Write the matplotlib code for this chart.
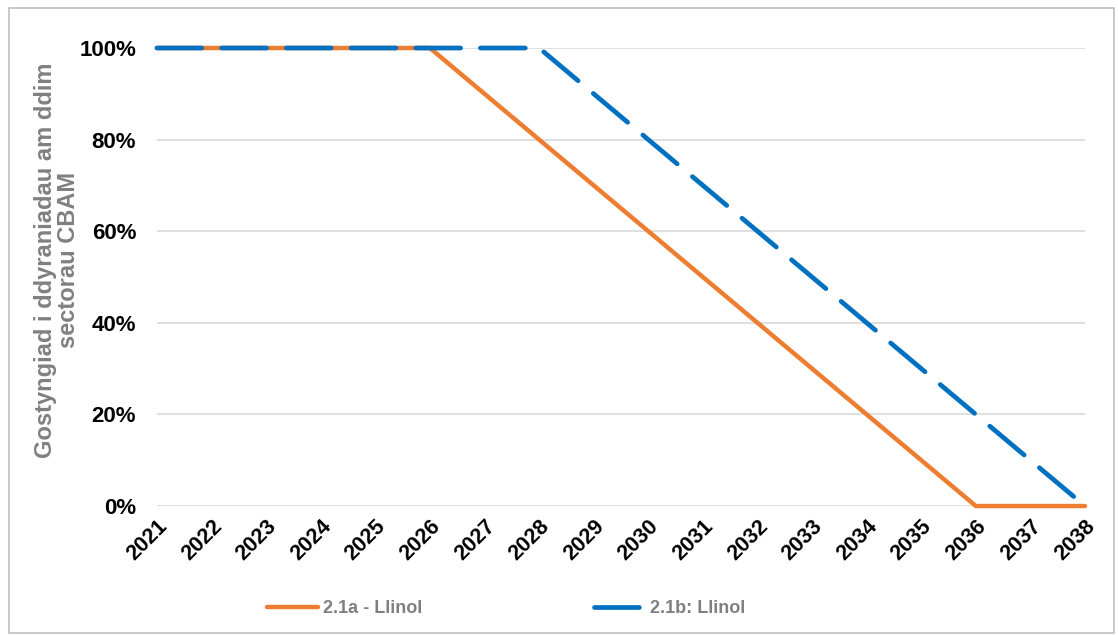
import matplotlib.pyplot as plt
from matplotlib.patches import Rectangle

plt.rcParams['font.family'] = ['Liberation Sans', 'DejaVu Sans']

years = [str(y) for y in range(2021, 2039)]
series_a = [100, 100, 100, 100, 100, 100, 90, 80, 70, 60, 50, 40, 30, 20, 10, 0, 0, 0]
series_b = [100, 100, 100, 100, 100, 100, 100, 100, 90, 80, 70, 60, 50, 40, 30, 20, 10, 0]
label_a = '2.1a - Llinol'
label_b = '2.1b: Llinol'

fig = plt.figure(figsize=(11.18, 6.35), dpi=100)
ax = fig.add_axes([0.1404, 0.2031, 0.8301, 0.7213])

x = range(len(years))
ax.plot(x, [v / 100 for v in series_a], color='#ED7D31', linewidth=3.2, label=label_a,
        solid_capstyle='round', clip_on=False, zorder=3)
ax.plot(x, [v / 100 for v in series_b], color='#0070C0', linewidth=3.4, label=label_b,
        dashes=(9.5, 4.2), dash_capstyle='round', clip_on=False, zorder=4)

ax.set_xlim(0, len(years) - 1)
ax.set_ylim(0, 1)
ax.set_yticks([0, 0.2, 0.4, 0.6, 0.8, 1.0])
ax.set_yticklabels(['0%', '20%', '40%', '60%', '80%', '100%'], fontsize=16, fontweight='bold')
ax.set_xticks(list(x))
ax.set_xticklabels(years, rotation=45, ha='right', rotation_mode='anchor',
                   fontsize=15.5, fontweight='bold')
ax.tick_params(axis='y', length=0, pad=15)
ax.tick_params(axis='x', length=0, pad=7)
ax.grid(axis='y', color='#D9D9D9', linewidth=1.2)
ax.set_axisbelow(True)
for s in ax.spines.values():
    s.set_visible(False)

ax.set_ylabel('Gostyngiad i ddyraniadau am ddim\nsectorau CBAM', fontsize=17,
              fontweight='bold', color='#808080', linespacing=1.0)
ax.yaxis.set_label_coords(-0.083, 0.537)

leg = fig.legend(loc='center', ncol=2, frameon=False, bbox_to_anchor=(0.453, 0.042),
                 prop={'weight': 'bold', 'size': 13}, handlelength=2.8, columnspacing=9.5,
                 handletextpad=0.3)
for t in leg.get_texts():
    t.set_color('#808080')

fig.patches.append(Rectangle((0.008, 0.003), 0.988, 0.985, transform=fig.transFigure,
                             fill=False, edgecolor='#BFBFBF', linewidth=1.2))

fig.savefig('out.png', dpi=100)
